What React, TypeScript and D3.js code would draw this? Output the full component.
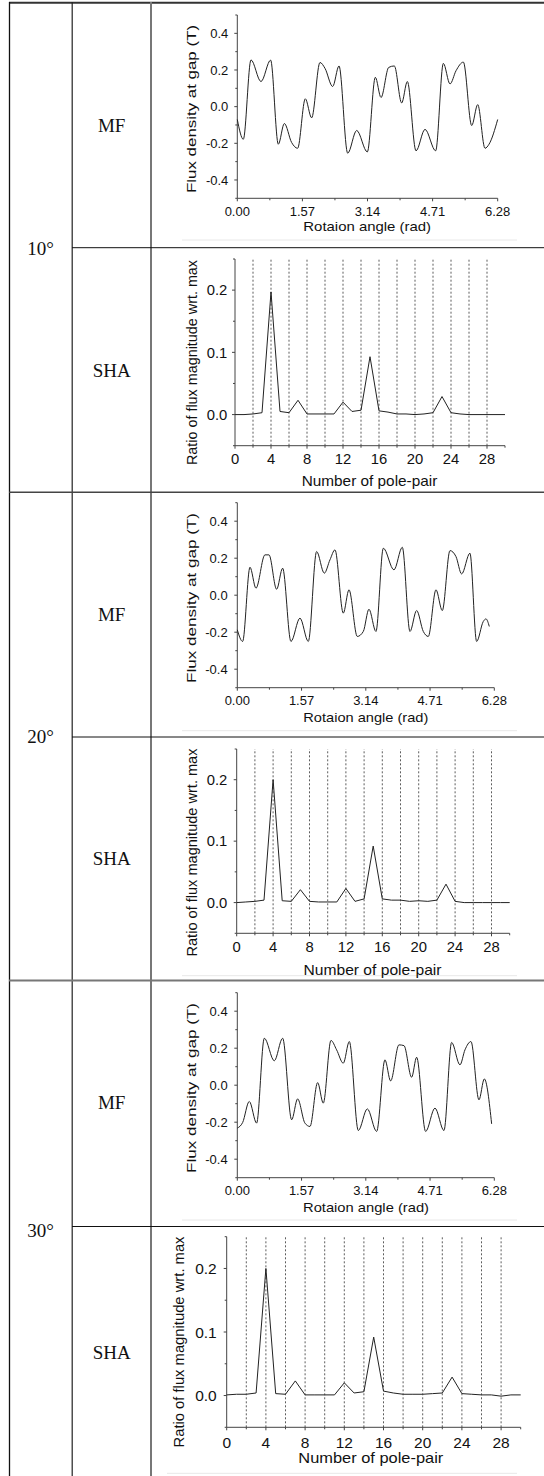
import React from 'react';
import * as d3 from 'd3';

// ---------- DATA ----------
// Magnetic flux density at gap (T) vs rotation angle (rad)
const mf10: [number, number][] = [
  [0.0, -0.07], [0.145, -0.178], [0.33, 0.255], [0.571, 0.137], [0.804, 0.254], [0.989, -0.205],
  [1.134, -0.092], [1.311, -0.196], [1.455, -0.227], [1.64, 0.043], [1.793, -0.061], [1.994, 0.241],
  [2.115, 0.209], [2.3, 0.11], [2.453, 0.222], [2.662, -0.254], [2.879, -0.13], [3.136, -0.247],
  [3.329, 0.16], [3.466, 0.05], [3.651, 0.214], [3.787, 0.222], [3.964, 0.02], [4.101, 0.137],
  [4.31, -0.241], [4.527, -0.124], [4.784, -0.241], [4.969, 0.236], [5.13, 0.124], [5.275, 0.196],
  [5.452, 0.243], [5.653, -0.103], [5.798, 0.011], [5.974, -0.227], [6.071, -0.205], [6.28, -0.07],
];
const mf20: [number, number][] = [
  [0.0, -0.187], [0.13, -0.25], [0.31, 0.151], [0.456, 0.038], [0.676, 0.218], [0.774, 0.218],
  [0.961, 0.032], [1.108, 0.146], [1.311, -0.25], [1.531, -0.124], [1.735, -0.25], [1.938, 0.236],
  [2.126, 0.119], [2.264, 0.191], [2.387, 0.245], [2.59, -0.097], [2.729, 0.029], [2.932, -0.223],
  [3.079, -0.196], [3.217, -0.076], [3.388, -0.196], [3.568, 0.254], [3.828, 0.137], [4.032, 0.259],
  [4.219, -0.196], [4.382, -0.083], [4.545, -0.196], [4.667, -0.223], [4.855, 0.029], [5.009, -0.083],
  [5.197, 0.241], [5.343, 0.209], [5.482, 0.115], [5.685, 0.227], [5.848, -0.25], [6.011, -0.142],
  [6.076, -0.128], [6.158, -0.169],
];
const mf30: [number, number][] = [
  [0.0, -0.232], [0.13, -0.202], [0.293, -0.088], [0.472, -0.205], [0.66, 0.254], [0.904, 0.132],
  [1.108, 0.254], [1.328, -0.187], [1.474, -0.074], [1.653, -0.205], [1.776, -0.223], [1.963, 0.014],
  [2.101, -0.097], [2.289, 0.242], [2.427, 0.191], [2.59, 0.119], [2.737, 0.236], [2.957, -0.245],
  [3.177, -0.128], [3.405, -0.25], [3.608, 0.137], [3.747, 0.023], [3.95, 0.218], [4.073, 0.214],
  [4.26, 0.043], [4.382, 0.151], [4.602, -0.25], [4.83, -0.124], [5.05, -0.245], [5.237, 0.231],
  [5.441, 0.11], [5.563, 0.191], [5.71, 0.236], [5.905, -0.079], [6.036, 0.034], [6.215, -0.209],
];

// Spatial harmonic analysis: ratio of flux magnitude wrt. max, per pole-pair number
const polePairs = [0, 1, 2, 3, 4, 5, 6, 7, 8, 9, 10, 11, 12, 13, 14, 15, 16, 17, 18, 19, 20, 21, 22, 23, 24, 25, 26, 27, 28, 29, 30];
const sha10 = [0.0, 0.0, 0.001, 0.003, 0.197, 0.005, 0.003, 0.023, 0.001, 0.001, 0.001, 0.001, 0.02, 0.005, 0.007, 0.093,
  0.006, 0.004, 0.001, 0.001, 0.0, 0.001, 0.003, 0.029, 0.003, 0.001, 0.0, 0.0, 0.0, 0.0, 0.0];
const sha20 = [0.0, 0.001, 0.002, 0.004, 0.2, 0.003, 0.002, 0.021, 0.002, 0.001, 0.001, 0.001, 0.023, 0.002, 0.006, 0.092,
  0.006, 0.004, 0.004, 0.002, 0.003, 0.002, 0.004, 0.03, 0.002, 0.0, 0.0, 0.0, 0.0, 0.0, 0.0];
const sha30 = [0.001, 0.002, 0.002, 0.004, 0.2, 0.003, 0.002, 0.023, 0.001, 0.001, 0.001, 0.001, 0.02, 0.004, 0.006, 0.092,
  0.007, 0.004, 0.002, 0.002, 0.002, 0.003, 0.004, 0.029, 0.003, 0.002, 0.001, 0.001, -0.001, 0.001, 0.001];

// Ticks
const mfXTicks = [0, 1.57, 3.14, 4.71, 6.28];
const mfXMinor = [0.785, 2.355, 3.925, 5.495];
const mfYTicks = [-0.4, -0.2, 0, 0.2, 0.4];
const mfYMinor = [-0.5, -0.3, -0.1, 0.1, 0.3, 0.5];
const shaXTicks = [0, 4, 8, 12, 16, 20, 24, 28];
const shaXMinor = [2, 6, 10, 14, 18, 22, 26, 30];
const shaGrid = [2, 4, 6, 8, 10, 12, 14, 16, 18, 20, 22, 24, 26, 28];
const shaYTicks = [0, 0.1, 0.2];
const shaYMinor = [-0.05, 0.05, 0.15, 0.25];

const angles = ['10°', '20°', '30°'];
const rowNames = ['MF', 'SHA'];

// ---------- LAYOUT ----------
type Cfg = {
  kind: 'MF' | 'SHA';
  data: [number, number][];
  left: number; right: number; top: number; bottom: number;
  tickFont: number; xTickOff: number; yGap: number;
  titleFont: number;
  xtX: number; xtY: number; xtLen: number;
  ytX: number; ytY: number; ytLen: number;
  faint?: [number, number, number];
};

const pairs = (vals: number[]): [number, number][] => polePairs.map((p, i) => [p, vals[i]]);

const panels: Cfg[] = [
  { kind: 'MF', data: mf10, left: 237.3, right: 497.7, top: 15, bottom: 198.3, tickFont: 13, xTickOff: 17.7, yGap: 9,
    titleFont: 13, xtX: 367.2, xtY: 231, xtLen: 127.7, ytX: 195.5, ytY: 109, ytLen: 168, faint: [182, 517, 240] },
  { kind: 'SHA', data: pairs(sha10), left: 235, right: 505, top: 259, bottom: 445.7, tickFont: 14.8, xTickOff: 17.8, yGap: 7.7,
    titleFont: 14.5, xtX: 369.5, xtY: 485.5, xtLen: 135.7, ytX: 197, ytY: 362.5, ytLen: 205 },
  { kind: 'MF', data: mf20, left: 237.3, right: 494.3, top: 502.7, bottom: 687.7, tickFont: 13, xTickOff: 17.3, yGap: 9.6,
    titleFont: 13, xtX: 365.8, xtY: 721.5, xtLen: 125, ytX: 195.5, ytY: 598, ytLen: 170, faint: [182, 517, 730.7] },
  { kind: 'SHA', data: pairs(sha20), left: 236.7, right: 509.7, top: 749, bottom: 933.3, tickFont: 14.8, xTickOff: 18.4, yGap: 9.4,
    titleFont: 14.5, xtX: 372.5, xtY: 974.5, xtLen: 138, ytX: 197.3, ytY: 852.5, ytLen: 208, faint: [182, 517, 975.7] },
  { kind: 'MF', data: mf30, left: 237.3, right: 494.3, top: 992.7, bottom: 1177.7, tickFont: 13, xTickOff: 17.3, yGap: 9.6,
    titleFont: 13, xtX: 366, xtY: 1211.5, xtLen: 126, ytX: 195.5, ytY: 1088, ytLen: 170, faint: [182, 517, 1220] },
  { kind: 'SHA', data: pairs(sha30), left: 226.7, right: 520.7, top: 1236.7, bottom: 1427.3, tickFont: 15.5, xTickOff: 20.4, yGap: 10,
    titleFont: 15, xtX: 370.8, xtY: 1463, xtLen: 145, ytX: 184, ytY: 1342, ytLen: 211, faint: [167, 517, 1473.3] },
];

const SANS = '"Liberation Sans", Arial, sans-serif';
const SERIF = '"Liberation Serif", "Times New Roman", serif';
const AXIS = '#444';

function Panel({ c }: { c: Cfg }) {
  const isMF = c.kind === 'MF';
  const x = d3.scaleLinear().domain(isMF ? [0, 6.28] : [0, 30]).range([c.left, c.right]);
  const y = d3.scaleLinear().domain(isMF ? [-0.5, 0.5] : [-0.05, 0.25]).range([c.bottom, c.top]);
  const line = d3.line<[number, number]>().x(d => x(d[0])).y(d => y(d[1]))
    .curve(isMF ? d3.curveMonotoneX : d3.curveLinear);
  const xTicks = isMF ? mfXTicks : shaXTicks;
  const xMinor = isMF ? mfXMinor : shaXMinor;
  const yTicks = isMF ? mfYTicks : shaYTicks;
  const yMinor = isMF ? mfYMinor : shaYMinor;
  const xFmt = isMF ? (v: number) => v.toFixed(2) : (v: number) => String(v);
  const yFmt = (v: number) => v.toFixed(1);
  return (
    <g>
      {c.faint && <line x1={c.faint[0]} x2={c.faint[1]} y1={c.faint[2]} y2={c.faint[2]} stroke="#e8e8e8" strokeWidth={1} />}
      {!isMF && shaGrid.map(g => (
        <line key={'g' + g} x1={x(g)} x2={x(g)} y1={y(-0.05)} y2={y(0.25)} stroke="#333" strokeWidth={0.8} strokeDasharray="2,2" />
      ))}
      {/* axes */}
      <line x1={c.left} x2={c.left} y1={c.top} y2={c.bottom} stroke={AXIS} strokeWidth={1} />
      <line x1={c.left} x2={c.right} y1={c.bottom} y2={c.bottom} stroke={AXIS} strokeWidth={1} />
      {xTicks.map(t => (
        <g key={'xt' + t}>
          <line x1={x(t)} x2={x(t)} y1={c.bottom} y2={c.bottom + 3} stroke={AXIS} />
          <text x={x(t)} y={c.bottom + c.xTickOff} textAnchor="middle" fontSize={c.tickFont} fontFamily={SANS} fill="#111">{xFmt(t)}</text>
        </g>
      ))}
      {xMinor.map(t => (
        <line key={'xm' + t} x1={x(t)} x2={x(t)} y1={c.bottom} y2={c.bottom + 2} stroke={AXIS} />
      ))}
      {yTicks.map(t => (
        <g key={'yt' + t}>
          <line x1={c.left - 3} x2={c.left} y1={y(t)} y2={y(t)} stroke={AXIS} />
          <text x={c.left - c.yGap} y={y(t) + c.tickFont * 0.36} textAnchor="end" fontSize={c.tickFont} fontFamily={SANS} fill="#111">{yFmt(t)}</text>
        </g>
      ))}
      {yMinor.map(t => (
        <line key={'ym' + t} x1={c.left - 2} x2={c.left} y1={y(t)} y2={y(t)} stroke={AXIS} />
      ))}
      <path d={line(c.data) || ''} fill="none" stroke="#222" strokeWidth={1} strokeLinejoin="round" />
      <text x={c.xtX} y={c.xtY} textAnchor="middle" fontSize={c.titleFont} fontFamily={SANS} fill="#111"
        textLength={c.xtLen} lengthAdjust="spacingAndGlyphs">
        {isMF ? 'Rotaion angle (rad)' : 'Number of pole-pair'}
      </text>
      <text transform={`translate(${c.ytX},${c.ytY}) rotate(-90)`} textAnchor="middle" fontSize={c.titleFont} fontFamily={SANS} fill="#111"
        textLength={c.ytLen} lengthAdjust="spacingAndGlyphs">
        {isMF ? 'Flux density at gap (T)' : 'Ratio of flux magnitude wrt. max'}
      </text>
    </g>
  );
}

export default function App() {
  const W = 544, H = 1476;
  const rowLines = [247.7, 737, 1226.5];
  const blockLines = [492.3, 980.5];
  const blockCenters = [254.5, 743, 1237.3];
  const rowBaselines = [132, 377, 621, 865, 1109, 1359];
  return (
    <svg width={W} height={H} style={{ position: 'absolute', left: 0, top: 0, background: '#fff' }}>
      <rect x={0} y={0} width={W} height={H} fill="#fff" />
      {/* table grid */}
      <line x1={9} x2={W} y1={2.7} y2={2.7} stroke="#333" strokeWidth={2} />
      <line x1={9.5} x2={9.5} y1={2} y2={H} stroke="#111" strokeWidth={1.3} />
      <line x1={72.2} x2={72.2} y1={2} y2={H} stroke="#222" strokeWidth={1.2} />
      <line x1={151} x2={151} y1={2} y2={H} stroke="#777" strokeWidth={2} />
      {rowLines.map(v => <line key={'r' + v} x1={72} x2={W} y1={v} y2={v} stroke="#111" strokeWidth={1} />)}
      {blockLines.map((v, i) => <line key={'b' + v} x1={9} x2={W} y1={v} y2={v} stroke={i === 0 ? '#444' : '#777'} strokeWidth={i === 0 ? 1.5 : 2} />)}
      {angles.map((a, i) => (
        <text key={a} x={40.5} y={blockCenters[i]} textAnchor="middle" fontSize={19} fontFamily={SERIF} fill="#111">{a}</text>
      ))}
      {rowBaselines.map((b, i) => (
        <text key={'n' + i} x={111.7} y={b} textAnchor="middle" fontSize={19} fontFamily={SERIF} fill="#111">{rowNames[i % 2]}</text>
      ))}
      {panels.map((c, i) => <Panel key={i} c={c} />)}
    </svg>
  );
}
